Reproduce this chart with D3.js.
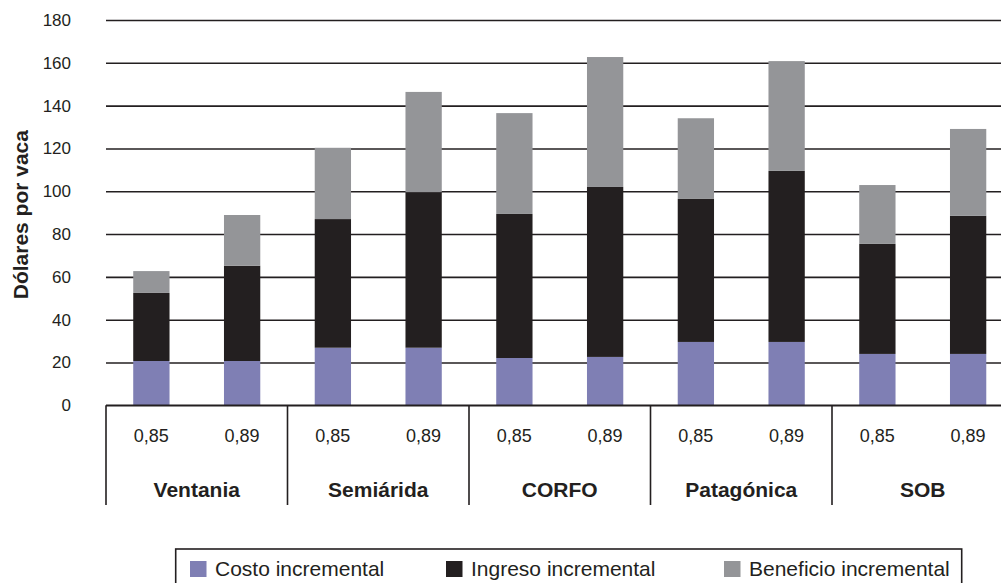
<!DOCTYPE html>
<html>
<head>
<meta charset="utf-8">
<script src="https://cdn.jsdelivr.net/npm/d3@7"></script>
<style>
  html, body { margin: 0; padding: 0; background: #fff; }
  svg { display: block; font-family: "Liberation Sans", Arial, sans-serif; }
</style>
</head>
<body>
<svg id="chart" width="1001" height="583"></svg>
<script>
// Regions (groups) and the two values compared within each one
const groups = ["Ventania", "Semiárida", "CORFO", "Patagónica", "SOB"];
const levels = ["0,85", "0,89"];

// Stacked segments, dollars per cow, one value per bar (group × level)
const costo     = [20.7, 20.7, 26.9, 26.9, 22.1, 22.6, 29.6, 29.6, 24.0, 24.0];
const ingreso   = [31.8, 44.5, 60.1, 72.7, 67.3, 79.4, 66.8, 79.9, 51.4, 64.5];
const beneficio = [10.2, 23.7, 33.3, 46.8, 47.1, 60.7, 37.7, 51.3, 27.5, 40.6];

const seriesNames = ["Costo incremental", "Ingreso incremental", "Beneficio incremental"];
const seriesColors = ["#7f7fb4", "#231f20", "#949598"];
const yTicks = [0, 20, 40, 60, 80, 100, 120, 140, 160, 180];

const ink = "#231f20";
const svg = d3.select("#chart");

const plotLeft = 106, plotRight = 1013.5, plotTop = 20, plotBase = 405.3;

// One row per bar
const rows = [];
groups.forEach((g, gi) => levels.forEach((l, li) => {
  const i = gi * levels.length + li;
  rows.push({ key: g + "|" + l, group: g, level: l,
    "Costo incremental": costo[i],
    "Ingreso incremental": ingreso[i],
    "Beneficio incremental": beneficio[i] });
}));

const x = d3.scaleBand().domain(rows.map(d => d.key))
  .range([plotLeft, plotRight]).paddingInner(0.6).paddingOuter(0.3);
const xg = d3.scaleBand().domain(groups).range([plotLeft, plotRight]).padding(0);
const y = d3.scaleLinear().domain([0, 180]).range([plotBase, plotTop]);
const color = d3.scaleOrdinal().domain(seriesNames).range(seriesColors);

// Horizontal gridlines and value labels
const yAxis = svg.append("g")
  .attr("transform", `translate(${plotLeft},0)`)
  .call(d3.axisLeft(y).tickValues(yTicks).tickFormat(d3.format("d"))
    .tickSizeInner(-(plotRight - plotLeft)).tickSizeOuter(0).tickPadding(35));
yAxis.select(".domain").remove();
yAxis.selectAll(".tick line").attr("stroke", ink).attr("stroke-width", 1.6);
yAxis.selectAll(".tick text").attr("fill", ink)
  .style("font-size", "17px").style("font-family", "Liberation Sans, Arial, sans-serif");

// Stacked bars
const stack = d3.stack().keys(seriesNames)(rows);
svg.append("g").selectAll("g").data(stack).join("g")
  .attr("fill", d => color(d.key))
  .selectAll("rect").data(d => d).join("rect")
  .attr("x", d => x(d.data.key))
  .attr("width", x.bandwidth())
  .attr("y", d => y(d[1]))
  .attr("height", d => y(d[0]) - y(d[1]));

// Category box: baseline and separators between regions
const cat = svg.append("g");
cat.append("line").attr("x1", plotLeft).attr("x2", plotRight)
  .attr("y1", y(0)).attr("y2", y(0)).attr("stroke", ink).attr("stroke-width", 1.6);
const bounds = groups.map(g => xg(g)).concat([plotRight]);
cat.selectAll("line.sep").data(bounds).join("line").attr("class", "sep")
  .attr("x1", d => d).attr("x2", d => d)
  .attr("y1", y(0)).attr("y2", 505)
  .attr("stroke", ink).attr("stroke-width", 1.6);

cat.selectAll("text.lvl").data(rows).join("text").attr("class", "lvl")
  .attr("x", d => x(d.key) + x.bandwidth() / 2)
  .attr("y", 441.5)
  .attr("text-anchor", "middle")
  .attr("fill", ink)
  .style("font-size", "18px")
  .text(d => d.level);

cat.selectAll("text.grp").data(groups).join("text").attr("class", "grp")
  .attr("x", d => xg(d) + xg.bandwidth() / 2)
  .attr("y", 496.5)
  .attr("text-anchor", "middle")
  .attr("fill", ink)
  .style("font-size", "21px").style("font-weight", "bold")
  .text(d => d);

// Axis title
svg.append("text")
  .attr("transform", `translate(28,${(plotTop + plotBase) / 2 + 2}) rotate(-90)`)
  .attr("text-anchor", "middle")
  .attr("fill", ink)
  .style("font-size", "21px").style("font-weight", "bold")
  .text("Dólares por vaca");

// Legend
const legend = svg.append("g");
legend.append("rect").attr("x", 175.7).attr("y", 549)
  .attr("width", 786).attr("height", 60)
  .attr("fill", "none").attr("stroke", ink).attr("stroke-width", 1.6);
const legendX = [190, 446, 724];
const items = legend.selectAll("g.item").data(seriesNames).join("g").attr("class", "item")
  .attr("transform", (d, i) => `translate(${legendX[i]},561)`);
items.append("rect").attr("width", 16.5).attr("height", 16)
  .attr("fill", d => color(d));
items.append("text").attr("x", 25).attr("y", 15)
  .attr("fill", ink)
  .style("font-size", "21px")
  .text(d => d);
</script>
</body>
</html>
